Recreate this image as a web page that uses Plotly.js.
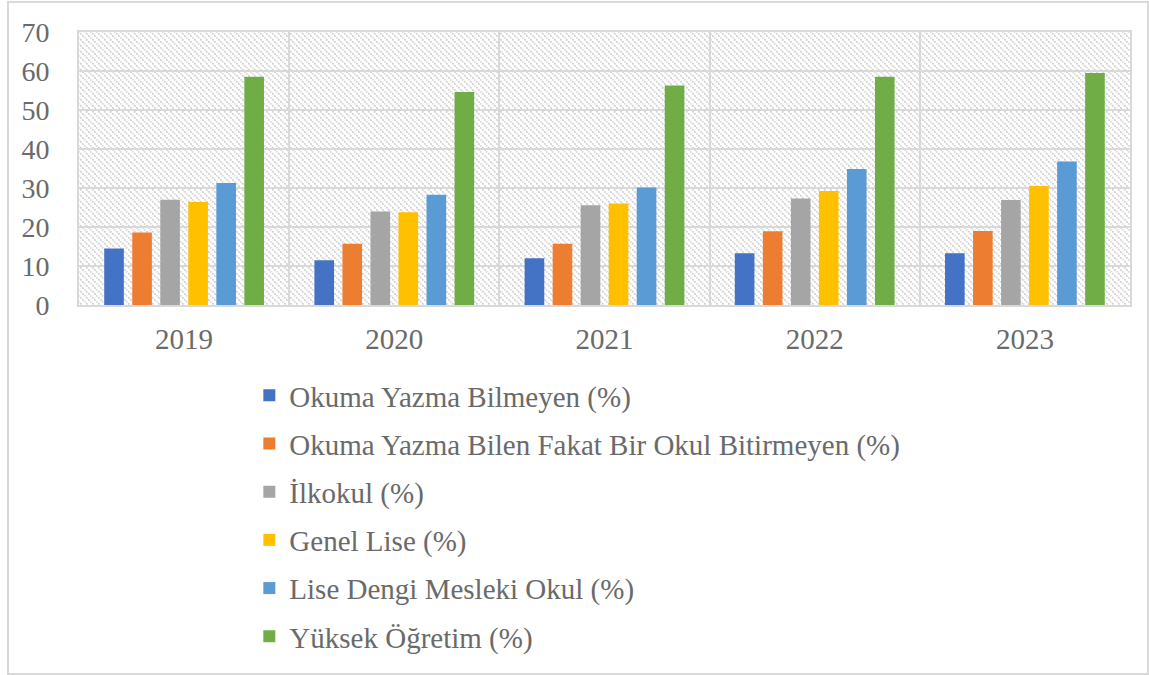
<!DOCTYPE html>
<html>
<head>
<meta charset="utf-8">
<script src="https://cdn.plot.ly/plotly-3.0.1.min.js"></script>
<style>
  html, body { margin: 0; padding: 0; background: #ffffff; }
  #wrap { position: relative; width: 1149px; height: 675px; }
  #chart { position: absolute; left: 0; top: 0; width: 1149px; height: 675px; }
  #frame { position: absolute; left: 7px; top: 1px; width: 1138px; height: 670px;
           border: 2px solid #d9d9d9; pointer-events: none; }
</style>
</head>
<body>
<div id="wrap">
  <div id="chart"></div>
  <div id="frame"></div>
</div>
<script>
// ---- data ----
const years = ['2019', '2020', '2021', '2022', '2023'];
const seriesNames = [
  'Okuma Yazma Bilmeyen (%)',
  'Okuma Yazma Bilen Fakat Bir Okul Bitirmeyen (%)',
  'İlkokul (%)',
  'Genel Lise (%)',
  'Lise Dengi Mesleki Okul (%)',
  'Yüksek Öğretim (%)'
];
const okumaYazmaBilmeyen = [14.5, 11.5, 12.0, 13.3, 13.3];
const okulBitirmeyen     = [18.6, 15.7, 15.7, 18.9, 19.0];
const ilkokul            = [27.0, 24.0, 25.6, 27.3, 26.9];
const genelLise          = [26.4, 23.8, 26.0, 29.2, 30.5];
const meslekiOkul        = [31.3, 28.3, 30.1, 34.9, 36.8];
const yuksekOgretim      = [58.5, 54.6, 56.3, 58.5, 59.5];
const yTicks = [0, 10, 20, 30, 40, 50, 60, 70];

const seriesValues = [okumaYazmaBilmeyen, okulBitirmeyen, ilkokul, genelLise, meslekiOkul, yuksekOgretim];
const colors = ['#4472C4', '#ED7D31', '#A5A5A5', '#FFC000', '#5B9BD5', '#70AD47'];

const traces = seriesNames.map((n, i) => ({
  type: 'bar',
  name: n,
  x: years,
  y: seriesValues[i],
  legendgroup: 'g' + i,
  marker: { color: colors[i], line: { width: 0 } },
  hoverinfo: 'x+y+name'
}));

// hatch background for plot area
const W = 1051, H = 273;
const hatchSvg =
  '<svg xmlns="http://www.w3.org/2000/svg" width="' + W + '" height="' + H + '">' +
  '<defs><pattern id="p" patternUnits="userSpaceOnUse" width="6" height="6">' +
  '<path d="M-1,-1 L7,7 M-1,5 L1,7 M5,-1 L7,1" stroke="#cccccc" stroke-width="1.5" stroke-dasharray="2,1"/>' +
  '</pattern></defs><rect width="100%" height="100%" fill="#ffffff"/>' +
  '<rect width="100%" height="100%" fill="url(#p)"/></svg>';
const hatchUri = 'data:image/svg+xml;charset=utf-8,' + encodeURIComponent(hatchSvg);

const textColor = '#6a6a6a';
const fontFam = 'Liberation Serif, Times New Roman, serif';

const layout = {
  width: 1149,
  height: 675,
  margin: { l: 79, r: 19, t: 32, b: 370, autoexpand: false },
  paper_bgcolor: 'rgba(0,0,0,0)',
  plot_bgcolor: 'rgba(0,0,0,0)',
  font: { family: fontFam, color: textColor, size: 29 },
  barmode: 'group',
  bargap: 0.2,
  bargroupgap: 0.3,
  images: [{
    source: hatchUri, xref: 'paper', yref: 'paper',
    x: 0, y: 1, sizex: 1, sizey: 1, xanchor: 'left', yanchor: 'top',
    sizing: 'stretch', layer: 'below'
  }],
  xaxis: {
    type: 'category',
    tickson: 'boundaries',
    ticks: '',
    tickangle: 0,
    automargin: false,
    showgrid: true,
    gridcolor: '#d9d9d9',
    gridwidth: 2,
    showline: true,
    mirror: true,
    linecolor: '#d9d9d9',
    linewidth: 2,
    ticklabelstandoff: 7,
    tickfont: { family: fontFam, color: textColor, size: 29 }
  },
  yaxis: {
    range: [0, 70],
    tickvals: yTicks,
    ticktext: yTicks.map(String),
    ticks: '',
    automargin: false,
    showgrid: true,
    gridcolor: '#d9d9d9',
    gridwidth: 2,
    zeroline: false,
    showline: true,
    mirror: true,
    linecolor: '#d9d9d9',
    linewidth: 2,
    ticklabelstandoff: 22,
    tickfont: { family: fontFam, color: textColor, size: 28 }
  },
  showlegend: true,
  legend: {
    orientation: 'v',
    xref: 'container', yref: 'container',
    x: 0.217, y: 0.452,
    xanchor: 'left', yanchor: 'top',
    traceorder: 'grouped',
    tracegroupgap: 7.5,
    itemwidth: 30,
    bgcolor: 'rgba(0,0,0,0)',
    font: { family: fontFam, color: textColor, size: 29 }
  }
};

Plotly.newPlot('chart', traces, layout, { displayModeBar: false, staticPlot: true });
</script>
</body>
</html>
